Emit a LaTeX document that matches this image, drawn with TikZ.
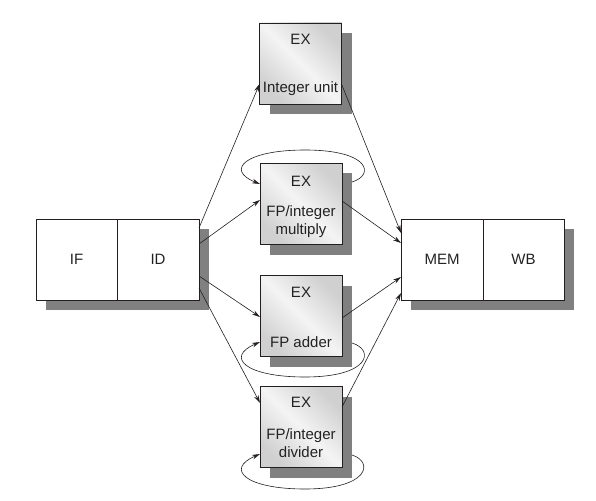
\documentclass[tikz,border=0pt]{standalone}
\usepackage{fontspec}
\setmainfont{Liberation Sans}
\usetikzlibrary{shadows,calc,arrows.meta}
\definecolor{edge}{HTML}{231F20}
\definecolor{shadowgray}{HTML}{808080}
\definecolor{shadeA}{HTML}{D0D0D0}
\definecolor{shadeB}{HTML}{F4F4F4}
\definecolor{txtc}{HTML}{222222}
\tikzset{
  box/.style={draw=edge, line width=0.9bp, minimum width=82bp, minimum height=81bp,
    inner sep=0pt, outer sep=0pt, fill=white,
    drop shadow={shadow xshift=10bp, shadow yshift=-10bp, fill=shadowgray, opacity=1}},
  exbox/.style={box, left color=shadeA, right color=shadeA, middle color=shadeB, shading angle=-45},
  txt/.style={font=\fontsize{15bp}{18bp}\selectfont, text=txtc, inner sep=0pt},
  arr/.style={draw=edge, line width=0.6bp, -{Stealth[length=8bp,width=4.6bp]}}
}
\begin{document}
\begin{tikzpicture}[x=1bp,y=-1bp]
\useasboundingbox (0,0) rectangle (596,501);
% pipeline stages
\node[box, minimum width=81bp] (if) at (76.5,259.5) {};
\node[box] (id) at (158,259.5) {};
\node[box] (mem) at (442,259.5) {};
\node[box, minimum width=81bp] (wb) at (523.5,259.5) {};
\node[txt] (ift) at (if.center) {IF};
\node[txt] (idt) at (id.center) {ID};
\node[txt] (memt) at (mem.center) {MEM};
\node[txt] (wbt) at (wb.center) {WB};
% EX units
\node[exbox] (intu) at (300.5,63.5) {};
\node[exbox] (mult) at (301,204) {};
\node[exbox] (adder) at (301,316) {};
\node[exbox] (divu) at (301,427) {};
\node[txt] (intuA) at ($(intu.north)+(0,16)$) {EX};
\node[txt] (intuB) at ($(intu.north)+(0,66)$) {Integer unit};
\node[txt] (multA) at ($(mult.north)+(0,18)$) {EX};
\node[txt] (multB) at ($(mult.north)+(0,49)$) {FP/integer};
\node[txt] (multC) at ($(mult.north)+(0,67)$) {multiply};
\node[txt] (adderA) at ($(adder.north)+(0,17)$) {EX};
\node[txt] (adderB) at ($(adder.north)+(0,67)$) {FP adder};
\node[txt] (divA) at ($(divu.north)+(0,16)$) {EX};
\node[txt] (divB) at ($(divu.north)+(0,49)$) {FP/integer};
\node[txt] (divC) at ($(divu.north)+(0,66)$) {divider};
% ID to EX
\draw[arr] ([yshift=31.5bp]id.east) -- ([yshift=-20.5bp]intu.west);
\draw[arr] ([yshift=15.5bp]id.east) -- ([yshift=4bp]mult.west);
\draw[arr] ([yshift=-16.5bp]id.east) -- ([yshift=-1bp]adder.west);
\draw[arr] ([yshift=-28.5bp]id.east) -- ([yshift=24bp]divu.west);
% EX to MEM
\draw[arr] ([yshift=-20.5bp]intu.east) -- ([yshift=26.5bp]mem.west);
\draw[arr] ([yshift=3bp]mult.east) -- ([yshift=16.5bp]mem.west);
\draw[arr] ([yshift=-2bp]adder.east) -- ([yshift=-17.5bp]mem.west);
\draw[arr] ([yshift=20bp]divu.east) -- ([yshift=-33.5bp]mem.west);
% loops
\coordinate (mS) at ($(mult.center)+(51,-22)$);
\coordinate (mE) at ([yshift=20bp]mult.west);
\draw[arr] (mS) .. controls ($(mult.center)+(74,-29)$) and ($(mult.center)+(69,-54)$) .. ($(mult.center)+(4,-54)$)
  .. controls ($(mult.center)+(-56,-54)$) and ($(mult.center)+(-76,-34)$) .. (mE);
\coordinate (aS) at ($(adder.center)+(51,27)$);
\coordinate (aE) at ([yshift=-26bp]adder.west);
\draw[arr] (aS) .. controls ($(adder.center)+(74,34)$) and ($(adder.center)+(69,61)$) .. ($(adder.center)+(4,61)$)
  .. controls ($(adder.center)+(-56,61)$) and ($(adder.center)+(-76,41)$) .. (aE);
\coordinate (dS) at ($(divu.center)+(51,28)$);
\coordinate (dE) at ([yshift=-27bp]divu.west);
\draw[arr] (dS) .. controls ($(divu.center)+(73,35)$) and ($(divu.center)+(68,62)$) .. ($(divu.center)+(4,62)$)
  .. controls ($(divu.center)+(-56,62)$) and ($(divu.center)+(-76,42)$) .. (dE);
\end{tikzpicture}
\end{document}
